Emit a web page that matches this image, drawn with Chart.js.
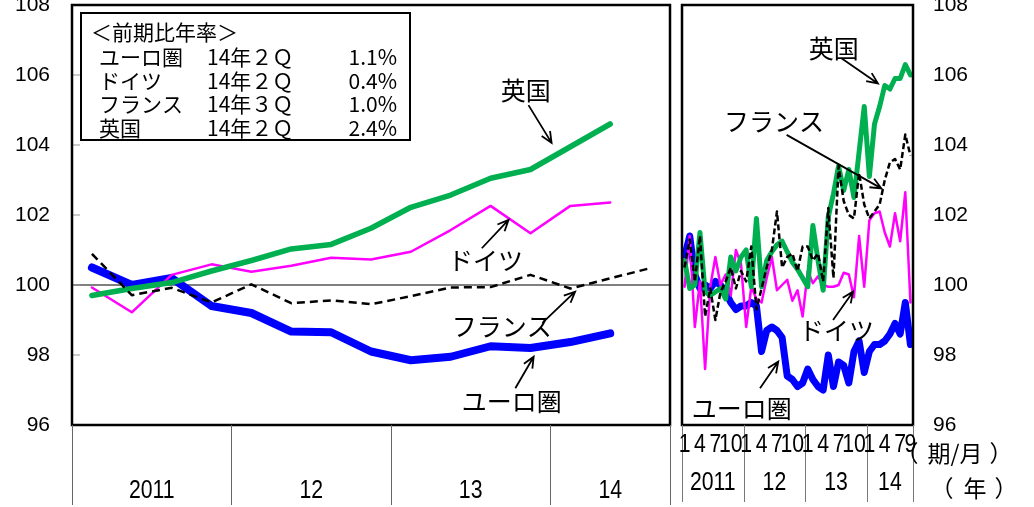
<!DOCTYPE html>
<html>
<head>
<meta charset="utf-8">
<script src="https://cdn.jsdelivr.net/npm/chart.js@4.4.1/dist/chart.umd.min.js"></script>
<style>
  body { margin: 0; background: #fff; }
  #caja { position: relative; width: 1034px; height: 507px; overflow: hidden; }
  #izq { position: absolute; left: 0; top: 0; width: 672px; height: 507px; }
  #der { position: absolute; left: 672px; top: 0; width: 362px; height: 507px; }
</style>
</head>
<body>
<div id="caja">
  <canvas id="izq" width="672" height="507"></canvas>
  <canvas id="der" width="362" height="507"></canvas>
</div>
<script>
// ---- datos trimestrales (panel izquierdo) ----
const trimestres = ['11/1Q','11/2Q','11/3Q','11/4Q','12/1Q','12/2Q','12/3Q','12/4Q',
                    '13/1Q','13/2Q','13/3Q','13/4Q','14/1Q','14/2Q','14/3Q'];
const euroTrim = [100.5, 100.0, 100.2, 99.4, 99.2, 98.67, 98.65, 98.1, 97.85, 97.95, 98.25, 98.2, 98.37, 98.62, null];
const alemTrim = [99.93, 99.22, 100.29, 100.59, 100.38, 100.55, 100.78, 100.73, 100.95, 101.57, 102.26, 101.48, 102.26, 102.36, null];
const franTrim = [100.89, 99.71, 99.92, 99.5, 100.02, 99.48, 99.56, 99.45, 99.68, 99.93, 99.94, 100.29, 99.9, 100.19, 100.48];
const ukTrim   = [99.7, 99.9, 100.07, 100.4, 100.7, 101.03, 101.16, 101.62, 102.22, 102.57, 103.05, 103.3, 103.95, 104.6, null];

// ---- datos mensuales (panel derecho) 2011/1 - 2014/9 ----
const euroMes = [100.8, 101.4, 100.3, 99.9, 100.0, 99.9, 100.1, 100.0, 99.8, 99.5, 99.3, 99.4,
                 99.4, 99.5, 99.4, 98.1, 98.7, 98.8, 98.7, 98.5, 97.4, 97.3, 97.1, 97.2,
                 97.6, 97.3, 97.1, 97.0, 98.0, 97.1, 97.8, 97.7, 97.2, 98.1, 98.4, 97.5,
                 98.1, 98.3, 98.3, 98.4, 98.6, 98.9, 98.6, 99.5, 98.3];
const alemMes = [99.95, 101.4, 98.8, 100.1, 97.6, 99.95, 100.8, 100.0, 100.3, 99.7, 101.0, 100.6,
                 98.8, 99.95, 99.6, 99.5, 100.2, 100.8, 99.85, 100.0, 100.15, 99.55, 99.85, 99.1,
                 100.4, 100.05, 100.25, 100.0, 99.95, 99.95, 100.0, 100.35, 100.3, 99.65, 101.4, 99.95,
                 101.85, 102.05, 102.1, 101.5, 101.1, 102.05, 101.25, 102.65, 99.5];
const franMes = [100.5, 101.3, 100.1, 101.4, 99.1, 99.9, 99.0, 99.8, 100.1, 100.5, 99.9, 100.4,
                 100.1, 101.1, 99.3, 99.9, 100.5, 101.0, 102.1, 100.5, 100.8, 100.9, 100.4, 101.1,
                 101.1, 100.7, 100.9, 100.1, 102.2, 100.2, 103.4, 102.4, 102.0, 101.9, 103.2, 102.3,
                 101.9, 102.1, 102.3, 103.0, 103.5, 103.6, 103.3, 104.3, 103.7];
const ukMes   = [100.7, 99.9, 100.0, 101.5, 99.8, 99.7, 99.8, 99.9, 99.6, 100.8, 100.4, 100.8,
                 101.0, 99.95, 101.9, 99.95, 100.7, 100.95, 101.15, 101.25, 100.95, 100.65, 100.45, 100.2,
                 99.95, 101.7, 100.7, 99.85, 101.95, 102.6, 103.4, 102.7, 103.3, 102.5, 103.8, 105.1,
                 103.1, 104.6, 105.1, 105.7, 105.6, 105.9, 105.9, 106.3, 106.0];

// etiquetas de ejes
const anios = ['2011', '12', '13', '14'];
const inicioAnioTrim = [0, 4, 8, 12];
const inicioAnioMes = [0, 12, 24, 36];
const mesesConEtiqueta = [1, 4, 7, 10];
const ticksY = [96, 98, 100, 102, 104, 106, 108];

// leyenda
const leyendaNombres = ['ユーロ圏', 'ドイツ', 'フランス', '英国'];
const leyendaPeriodo = ['14年２Ｑ', '14年２Ｑ', '14年３Ｑ', '14年２Ｑ'];
const leyendaTasa = ['1.1%', '0.4%', '1.0%', '2.4%'];

// meses como categorias
const meses = [];
['2011', '2012', '2013', '2014'].forEach(function (a) {
  for (let m = 1; m <= 12; m++) {
    if (a === '2014' && m > 9) break;
    meses.push(a + '/' + m);
  }
});

// notas con flechas (en unidades de los ejes)
const notasIzq = [
  { texto: '英国', x: 10.88, y: 105.57, desde: [10.95, 105.14], hasta: [11.53, 104.06] },
  { texto: 'ドイツ', x: 9.87, y: 100.71, desde: [9.78, 101.05], hasta: [10.45, 101.86] },
  { texto: 'フランス', x: 10.28, y: 98.81, desde: [11.3, 98.92], hasta: [12.12, 99.81] },
  { texto: 'ユーロ圏', x: 10.53, y: 96.67, desde: [10.62, 97.05], hasta: [11.08, 97.95] }
];
const notasDer = [
  { texto: '英国', x: 29.07, y: 106.76, desde: [30.56, 106.48], hasta: [37.67, 105.76] },
  { texto: 'フランス', x: 17.42, y: 104.67, desde: [19.88, 104.29], hasta: [38.33, 102.76] },
  { texto: 'ドイツ', x: 29.59, y: 98.71, desde: [28.93, 99.0], hasta: [32.82, 99.81] },
  { texto: 'ユーロ圏', x: 11.15, y: 96.48, desde: [14.7, 97.05], hasta: [18.25, 97.81] }
];

Chart.defaults.font.family = '"Liberation Sans", Arial, sans-serif';
Chart.defaults.color = '#000';
const fuenteJp = '"Noto Sans CJK JP", sans-serif';

function flecha(ctx, x1, y1, x2, y2) {
  const ang = Math.atan2(y2 - y1, x2 - x1);
  const largo = 12;
  ctx.beginPath();
  ctx.moveTo(x1, y1);
  ctx.lineTo(x2, y2);
  ctx.moveTo(x2 - largo * Math.cos(ang - 0.42), y2 - largo * Math.sin(ang - 0.42));
  ctx.lineTo(x2, y2);
  ctx.lineTo(x2 - largo * Math.cos(ang + 0.42), y2 - largo * Math.sin(ang + 0.42));
  ctx.stroke();
}

// numeros angostos del eje x
function textoAngosto(ctx, txt, x, y) {
  ctx.save();
  ctx.translate(x, y);
  ctx.scale(0.85, 1);
  ctx.fillText(txt, 0, 0);
  ctx.restore();
}

function dibujarNotas(chart, notas) {
  const ctx = chart.ctx, x = chart.scales.x, y = chart.scales.y;
  ctx.save();
  ctx.font = '25px ' + fuenteJp;
  ctx.textAlign = 'center';
  ctx.textBaseline = 'middle';
  ctx.fillStyle = '#000';
  ctx.strokeStyle = '#000';
  ctx.lineWidth = 1.8;
  notas.forEach(function (n) {
    ctx.fillText(n.texto, x.getPixelForValue(n.x), y.getPixelForValue(n.y));
    flecha(ctx, x.getPixelForValue(n.desde[0]), y.getPixelForValue(n.desde[1]),
                x.getPixelForValue(n.hasta[0]), y.getPixelForValue(n.hasta[1]));
  });
  ctx.restore();
}

// bordes de cada año en pixeles
function bordesAnios(chart, inicios) {
  const x = chart.scales.x;
  const medio = (x.getPixelForValue(1) - x.getPixelForValue(0)) / 2;
  return inicios.map(function (i) { return x.getPixelForValue(i) - medio; }).concat([chart.chartArea.right]);
}

function marco(chart) {
  const ctx = chart.ctx, a = chart.chartArea;
  ctx.save();
  ctx.strokeStyle = '#000';
  ctx.lineWidth = 2.5;
  ctx.strokeRect(a.left, a.top, a.right - a.left, a.bottom - a.top);
  ctx.restore();
}

const extrasIzq = {
  id: 'extrasIzq',
  beforeDatasetsDraw(chart) {
    const ctx = chart.ctx, a = chart.chartArea, y = chart.scales.y;
    ctx.save();
    // linea del 100
    ctx.strokeStyle = '#000';
    ctx.lineWidth = 1;
    const y100 = y.getPixelForValue(100);
    ctx.beginPath(); ctx.moveTo(a.left, y100); ctx.lineTo(a.right, y100); ctx.stroke();
    // marcas cortas por dentro
    ctx.strokeStyle = '#999';
    ticksY.forEach(function (v) {
      const p = y.getPixelForValue(v);
      ctx.beginPath(); ctx.moveTo(a.left, p); ctx.lineTo(a.left + 8, p); ctx.stroke();
    });
    ctx.restore();
  },
  afterDraw(chart) {
    const ctx = chart.ctx, a = chart.chartArea;
    marco(chart);
    // divisiones de años
    const b = bordesAnios(chart, inicioAnioTrim);
    ctx.save();
    ctx.strokeStyle = '#666';
    ctx.lineWidth = 1;
    b.forEach(function (px) {
      ctx.beginPath(); ctx.moveTo(Math.round(px) + 0.5, a.bottom); ctx.lineTo(Math.round(px) + 0.5, 505); ctx.stroke();
    });
    ctx.fillStyle = '#000';
    ctx.font = '25px "Liberation Sans", Arial, sans-serif';
    ctx.textAlign = 'center';
    ctx.textBaseline = 'middle';
    anios.forEach(function (t, k) { textoAngosto(ctx, t, (b[k] + b[k + 1]) / 2, 491); });

    // cuadro de leyenda
    const lx = a.left + 9, ly = a.top + 8;
    ctx.strokeStyle = '#000';
    ctx.lineWidth = 2;
    ctx.strokeRect(lx, ly, 329, 127);
    ctx.font = '21px ' + fuenteJp;
    ctx.textAlign = 'left';
    ctx.fillText('＜前期比年率＞', lx + 10, ly + 19);
    leyendaNombres.forEach(function (n, i) {
      const fy = ly + 44 + i * 23.7;
      ctx.textAlign = 'left';
      ctx.fillText(n, lx + 18, fy);
      ctx.fillText(leyendaPeriodo[i], lx + 126, fy);
      ctx.textAlign = 'right';
      ctx.fillText(leyendaTasa[i], lx + 316, fy);
    });
    ctx.restore();
    dibujarNotas(chart, notasIzq);
  }
};

const extrasDer = {
  id: 'extrasDer',
  afterDraw(chart) {
    const ctx = chart.ctx, a = chart.chartArea, x = chart.scales.x;
    marco(chart);
    const b = bordesAnios(chart, inicioAnioMes);
    ctx.save();
    ctx.strokeStyle = '#777';
    ctx.lineWidth = 1;
    b.forEach(function (px) {
      ctx.beginPath(); ctx.moveTo(Math.round(px) + 0.5, a.bottom); ctx.lineTo(Math.round(px) + 0.5, 502); ctx.stroke();
    });
    ctx.fillStyle = '#000';
    ctx.font = '25px "Liberation Sans", Arial, sans-serif';
    ctx.textAlign = 'center';
    ctx.textBaseline = 'middle';
    // meses 1 4 7 10 (y el ultimo)
    meses.forEach(function (m, i) {
      const num = parseInt(m.split('/')[1], 10);
      if (mesesConEtiqueta.indexOf(num) >= 0 || i === meses.length - 1) {
        textoAngosto(ctx, String(num), x.getPixelForValue(i), 445);
      }
    });
    anios.forEach(function (t, k) { textoAngosto(ctx, t, (b[k] + b[k + 1]) / 2, 483); });
    // unidades, con parentesis separados
    ctx.font = '23px ' + fuenteJp;
    ctx.fillText('（', a.right - 6, 453);
    ctx.fillText('期/月', a.right + 42, 453);
    ctx.fillText('）', a.right + 88, 453);
    ctx.fillText('（', a.right + 29, 488);
    ctx.fillText('年', a.right + 62, 488);
    ctx.fillText('）', a.right + 93, 488);
    ctx.restore();
    dibujarNotas(chart, notasDer);
  }
};

function ejeY(pos, relleno, ancho) {
  return {
    position: pos,
    min: 96,
    max: 108,
    afterBuildTicks: function (s) { s.ticks = ticksY.map(function (v) { return { value: v }; }); },
    grid: { display: false, drawTicks: false },
    border: { display: false },
    ticks: { padding: relleno, font: { size: 21 }, color: '#000' },
    afterFit: function (s) { s.width = ancho; s.paddingTop = 0; s.paddingBottom = 0; }
  };
}

const ejeX = {
  type: 'category',
  offset: true,
  grid: { display: false, drawTicks: false },
  border: { display: false },
  ticks: { display: false },
  afterFit: function (s) { s.height = 82; s.paddingLeft = 0; s.paddingRight = 0; }
};

function serie(datos, color, ancho, guiones) {
  return {
    data: datos,
    borderColor: color,
    borderWidth: ancho,
    borderDash: guiones || [],
    pointRadius: 0,
    tension: 0,
    fill: false,
    borderCapStyle: guiones ? 'butt' : 'round',
    borderJoinStyle: 'round'
  };
}

// panel trimestral
new Chart(document.getElementById('izq'), {
  type: 'line',
  data: {
    labels: trimestres,
    datasets: [
      serie(franTrim, '#000000', 2.5, [8, 5]),
      serie(ukTrim, '#00B050', 5.5),
      serie(alemTrim, '#FF00FF', 2.5),
      serie(euroTrim, '#0000FF', 8)
    ]
  },
  options: {
    responsive: false,
    animation: false,
    devicePixelRatio: 1,
    layout: { padding: { top: 5, right: 2, left: 0, bottom: 0 } },
    plugins: { legend: { display: false }, tooltip: { enabled: false } },
    scales: { x: ejeX, y: ejeY('left', 22, 72) }
  },
  plugins: [extrasIzq]
});

// panel mensual
new Chart(document.getElementById('der'), {
  type: 'line',
  data: {
    labels: meses,
    datasets: [
      serie(franMes, '#000000', 2.5, [6, 3]),
      serie(ukMes, '#00B050', 5),
      serie(alemMes, '#FF00FF', 2.5),
      serie(euroMes, '#0000FF', 7)
    ]
  },
  options: {
    responsive: false,
    animation: false,
    devicePixelRatio: 1,
    layout: { padding: { top: 5, right: 0, left: 10, bottom: 0 } },
    plugins: { legend: { display: false }, tooltip: { enabled: false } },
    scales: { x: Object.assign({}, ejeX), y: ejeY('right', 20, 121) }
  },
  plugins: [extrasDer]
});
</script>
</body>
</html>
